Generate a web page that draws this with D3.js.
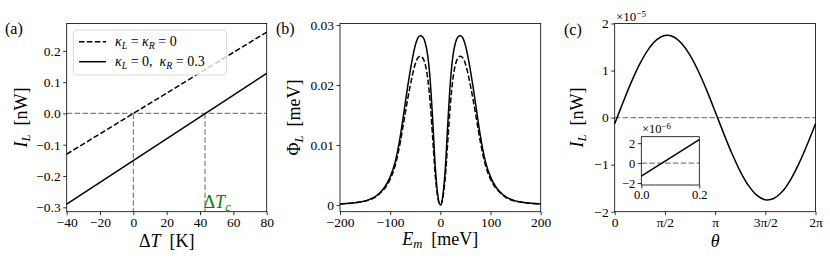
<!DOCTYPE html>
<html>
<head>
<meta charset="utf-8">
<script src="https://cdn.jsdelivr.net/npm/d3@7"></script>
<style>
  body { margin: 0; background: #fff; }
  svg { display: block; font-family: "Liberation Serif", "DejaVu Serif", serif; }
  .tick text { fill: #000; font-family: "Liberation Serif", "DejaVu Serif", serif; }
  .tick line { stroke: #000; stroke-width: 0.8; }
</style>
</head>
<body>
<svg id="chart" width="830" height="262"></svg>
<script>
// ---- panel (a): heat current vs temperature difference
const aTemp = [-40, 80];
const aDashed = [-0.13, 0.26];     // kappa_L = kappa_R = 0
const aSolid = [-0.29, 0.128];     // kappa_L = 0, kappa_R = 0.3
const aTc = 43;
const aXTicks = [-40, -20, 0, 20, 40, 60, 80];
const aXTickLabels = ["\u221240", "\u221220", "0", "20", "40", "60", "80"];
const aYTicks = [0.2, 0.1, 0.0, -0.1, -0.2, -0.3];
const aYTickLabels = ["0.2", "0.1", "0.0", "\u22120.1", "\u22120.2", "\u22120.3"];

// ---- panel (b): Phi_L vs E_m
const bEnergy = [-200, -180, -160, -140, -130, -120, -110, -100, -90, -80, -75, -70, -65, -60, -55, -50, -45, -40, -35, -30, -25, -20, -15, -10, -5,
  0, 5, 10, 15, 20, 25, 30, 35, 40, 45, 50, 55, 60, 65, 70, 75, 80, 90, 100, 110, 120, 130, 140, 160, 180, 200];
const bSolid = [0.0002, 0.0003, 0.0005, 0.0010, 0.0014, 0.0021, 0.0031, 0.0047, 0.0072, 0.0114, 0.0141, 0.0170, 0.0198, 0.0224, 0.0247, 0.0266, 0.0278, 0.0282, 0.0280, 0.0270, 0.0248, 0.0205, 0.0138, 0.0062, 0.0016,
  0, 0.0016, 0.0062, 0.0138, 0.0205, 0.0248, 0.0270, 0.0280, 0.0282, 0.0278, 0.0266, 0.0247, 0.0224, 0.0198, 0.0170, 0.0141, 0.0114, 0.0072, 0.0047, 0.0031, 0.0021, 0.0014, 0.0010, 0.0005, 0.0003, 0.0002];
const bDashed = [0.0002, 0.0003, 0.0005, 0.0009, 0.0013, 0.0020, 0.0029, 0.0043, 0.0066, 0.0104, 0.0128, 0.0153, 0.0177, 0.0199, 0.0219, 0.0235, 0.0245, 0.0248, 0.0245, 0.0234, 0.0210, 0.0168, 0.0108, 0.0048, 0.0012,
  0, 0.0012, 0.0048, 0.0108, 0.0168, 0.0210, 0.0234, 0.0245, 0.0248, 0.0245, 0.0235, 0.0219, 0.0199, 0.0177, 0.0153, 0.0128, 0.0104, 0.0066, 0.0043, 0.0029, 0.0020, 0.0013, 0.0009, 0.0005, 0.0003, 0.0002];
const bXTicks = [-200, -100, 0, 100, 200];
const bXTickLabels = ["\u2212200", "\u2212100", "0", "100", "200"];
const bYTicks = [0, 0.01, 0.02, 0.03];
const bYTickLabels = ["0", "0.01", "0.02", "0.03"];

// ---- panel (c): I_L vs theta (units 1e-5 nW)
const cTheta = [0, 0.2618, 0.5236, 0.7854, 1.0472, 1.3090, 1.5708, 1.8326, 2.0944, 2.3562, 2.6180, 2.8798, 3.1416,
  3.4034, 3.6652, 3.9270, 4.1888, 4.4506, 4.7124, 4.9742, 5.2360, 5.4978, 5.7596, 6.0214, 6.2832];
const cCurrent = [-0.131, 0.325, 0.759, 1.141, 1.446, 1.652, 1.745, 1.719, 1.577, 1.327, 0.985, 0.578, 0.131,
  -0.325, -0.759, -1.141, -1.446, -1.652, -1.745, -1.719, -1.577, -1.327, -0.985, -0.578, -0.131];
const cXTicks = [0, Math.PI / 2, Math.PI, 3 * Math.PI / 2, 2 * Math.PI];
const cXTickLabels = ["0", "\u03c0/2", "\u03c0", "3\u03c0/2", "2\u03c0"];
const cYTicks = [-2, -1, 0, 1, 2];
const cYTickLabels = ["\u22122", "\u22121", "0", "1", "2"];
// inset (units 1e-6 nW)
const cInsetTheta = [0, 0.1, 0.2];
const cInsetCurrent = [-1.3, 0.52, 2.35];
const cInsetXTicks = [0, 0.2];
const cInsetXTickLabels = ["0.0", "0.2"];
const cInsetYTicks = [-2, 0, 2];
const cInsetYTickLabels = ["\u22122", "0", "2"];

const svg = d3.select("#chart");
const top0 = 23.5, bot0 = 211.7;
const dash = "5.5,2.4";
const sp = "\u2002";

function frame(x, y) {
  const xr = x.range(), yr = y.range();
  svg.append("rect")
    .attr("x", xr[0]).attr("y", yr[1])
    .attr("width", xr[1] - xr[0]).attr("height", yr[0] - yr[1])
    .attr("fill", "none").attr("stroke", "#000").attr("stroke-width", 0.8);
}

function axes(x, y, xt, xl, yt, yl, fs) {
  const xr = x.range(), yr = y.range();
  const gx = svg.append("g").attr("transform", `translate(0,${yr[0]})`)
    .call(d3.axisBottom(x).tickValues(xt).tickFormat((d, i) => xl[i]).tickSize(3.5).tickPadding(2).tickSizeOuter(0));
  const gy = svg.append("g").attr("transform", `translate(${xr[0]},0)`)
    .call(d3.axisLeft(y).tickValues(yt).tickFormat((d, i) => yl[i]).tickSize(3.5).tickPadding(2.5).tickSizeOuter(0));
  [gx, gy].forEach(g => {
    g.attr("font-family", null).attr("font-size", fs || 13.5);
    g.selectAll("text").attr("font-family", "Liberation Serif, DejaVu Serif, serif");
    g.select(".domain").remove();
  });
}

function label(x, y, parts, opts) {
  opts = opts || {};
  const t = svg.append("text").attr("x", x).attr("y", y)
    .attr("font-size", opts.size || 18)
    .attr("text-anchor", opts.anchor || "middle")
    .attr("fill", opts.fill || "#000");
  if (opts.rotate) t.attr("transform", `rotate(-90,${x},${y})`);
  parts.forEach(p => {
    const s = t.append("tspan").text(p.t);
    if (p.i) s.attr("font-style", "italic");
    if (p.sub) s.attr("baseline-shift", "-25%").attr("font-size", "70%");
    if (p.sup) s.attr("baseline-shift", "45%").attr("font-size", "70%");
  });
  return t;
}

// ================= (a)
{
  const x = d3.scaleLinear().domain([-40, 80]).range([66.7, 266.7]);
  const y = d3.scaleLinear().domain([-0.314, 0.2875]).range([bot0, top0]);
  const gray = svg.append("g").attr("stroke", "#808080").attr("stroke-width", 1.2).attr("stroke-dasharray", dash).attr("fill", "none");
  gray.append("line").attr("x1", x(-40)).attr("x2", x(80)).attr("y1", y(0)).attr("y2", y(0));
  gray.append("line").attr("x1", x(0)).attr("x2", x(0)).attr("y1", y(0)).attr("y2", bot0);
  gray.append("line").attr("x1", x(aTc)).attr("x2", x(aTc)).attr("y1", y(0)).attr("y2", bot0);

  const line = d3.line().x((d, i) => x(aTemp[i])).y(d => y(d));
  svg.append("path").attr("d", line(aDashed)).attr("fill", "none").attr("stroke", "#000").attr("stroke-width", 1.5).attr("stroke-dasharray", dash);
  svg.append("path").attr("d", line(aSolid)).attr("fill", "none").attr("stroke", "#000").attr("stroke-width", 1.5);

  // legend
  const lg = svg.append("g");
  lg.append("rect").attr("x", 73.5).attr("y", 30).attr("width", 153).attr("height", 45).attr("rx", 3)
    .attr("fill", "#fff").attr("fill-opacity", 0.8).attr("stroke", "#d0d0d0").attr("stroke-width", 0.8);
  lg.append("line").attr("x1", 79).attr("x2", 106).attr("y1", 41.7).attr("y2", 41.7).attr("stroke", "#000").attr("stroke-width", 1.5).attr("stroke-dasharray", dash);
  lg.append("line").attr("x1", 79).attr("x2", 106).attr("y1", 61.7).attr("y2", 61.7).attr("stroke", "#000").attr("stroke-width", 1.5);
  label(115, 46, [{t: "\u03ba", i: 1}, {t: "L", i: 1, sub: 1}, {t: " = "}, {t: "\u03ba", i: 1}, {t: "R", i: 1, sub: 1}, {t: " = 0"}], {size: 14, anchor: "start"});
  label(115, 66, [{t: "\u03ba", i: 1}, {t: "L", i: 1, sub: 1}, {t: " = 0," + sp}, {t: "\u03ba", i: 1}, {t: "R", i: 1, sub: 1}, {t: " = 0.3"}], {size: 14, anchor: "start"});

  label(x(aTc) - 1.5, 208, [{t: "\u0394"}, {t: "T", i: 1}, {t: "c", i: 1, sub: 1}], {size: 18, anchor: "start", fill: "#008000"});

  frame(x, y);
  axes(x, y, aXTicks, aXTickLabels, aYTicks, aYTickLabels);
  label(166.7, 247, [{t: "\u0394"}, {t: "T", i: 1}, {t: sp + "[K]"}]);
  label(27, 117.5, [{t: "I", i: 1}, {t: "L", i: 1, sub: 1}, {t: sp + "[nW]"}], {rotate: 1});
  label(5, 34, [{t: "(a)"}], {size: 16, anchor: "start"});
}

// ================= (b)
{
  const x = d3.scaleLinear().domain([-200, 200]).range([340, 540.7]);
  const y = d3.scaleLinear().domain([-0.0011, 0.03025]).range([bot0, top0]);
  const line = d3.line().x((d, i) => x(bEnergy[i])).y(d => y(d)).curve(d3.curveMonotoneX);
  svg.append("path").attr("d", line(bDashed)).attr("fill", "none").attr("stroke", "#000").attr("stroke-width", 1.5).attr("stroke-dasharray", dash);
  svg.append("path").attr("d", line(bSolid)).attr("fill", "none").attr("stroke", "#000").attr("stroke-width", 1.5);
  frame(x, y);
  axes(x, y, bXTicks, bXTickLabels, bYTicks, bYTickLabels);
  label(440.3, 245, [{t: "E", i: 1}, {t: "m", i: 1, sub: 1}, {t: sp + "[meV]"}]);
  label(300, 117.5, [{t: "\u03a6"}, {t: "L", i: 1, sub: 1}, {t: sp + "[meV]"}], {rotate: 1});
  label(276, 34, [{t: "(b)"}], {size: 16, anchor: "start"});
}

// ================= (c)
{
  const x = d3.scaleLinear().domain([0, 2 * Math.PI]).range([614.7, 815.5]);
  const y = d3.scaleLinear().domain([-2, 2]).range([bot0, top0]);
  svg.append("line").attr("x1", x(0)).attr("x2", x(2 * Math.PI)).attr("y1", y(0)).attr("y2", y(0))
    .attr("stroke", "#808080").attr("stroke-width", 1.2).attr("stroke-dasharray", dash);
  const line = d3.line().x((d, i) => x(cTheta[i])).y(d => y(d)).curve(d3.curveCatmullRom);
  svg.append("path").attr("d", line(cCurrent)).attr("fill", "none").attr("stroke", "#000").attr("stroke-width", 1.5);
  frame(x, y);
  axes(x, y, cXTicks, cXTickLabels, cYTicks, cYTickLabels);
  label(616, 20.5, [{t: "\u00d710"}, {t: "\u22125", sup: 1}], {size: 13, anchor: "start"});
  label(715.1, 247, [{t: "\u03b8", i: 1}]);
  label(583, 117.5, [{t: "I", i: 1}, {t: "L", i: 1, sub: 1}, {t: sp + "[nW]"}], {rotate: 1});
  label(564, 35, [{t: "(c)"}], {size: 16, anchor: "start"});

  // inset
  const xi = d3.scaleLinear().domain([0, 0.2]).range([641.3, 699.3]);
  const yi = d3.scaleLinear().domain([-2.2, 2.65]).range([185, 136.7]);
  svg.append("rect").attr("x", 641.3).attr("y", 136.7).attr("width", 58).attr("height", 48.3).attr("fill", "#fff");
  svg.append("line").attr("x1", xi(0)).attr("x2", xi(0.2)).attr("y1", yi(0)).attr("y2", yi(0))
    .attr("stroke", "#808080").attr("stroke-width", 1.2).attr("stroke-dasharray", dash);
  const li = d3.line().x((d, i) => xi(cInsetTheta[i])).y(d => yi(d));
  svg.append("path").attr("d", li(cInsetCurrent)).attr("fill", "none").attr("stroke", "#000").attr("stroke-width", 1.5);
  frame(xi, yi);
  axes(xi, yi, cInsetXTicks, cInsetXTickLabels, cInsetYTicks, cInsetYTickLabels, 12.5);
  label(642, 133, [{t: "\u00d710"}, {t: "\u22126", sup: 1}], {size: 12.5, anchor: "start"});
}
</script>
</body>
</html>
